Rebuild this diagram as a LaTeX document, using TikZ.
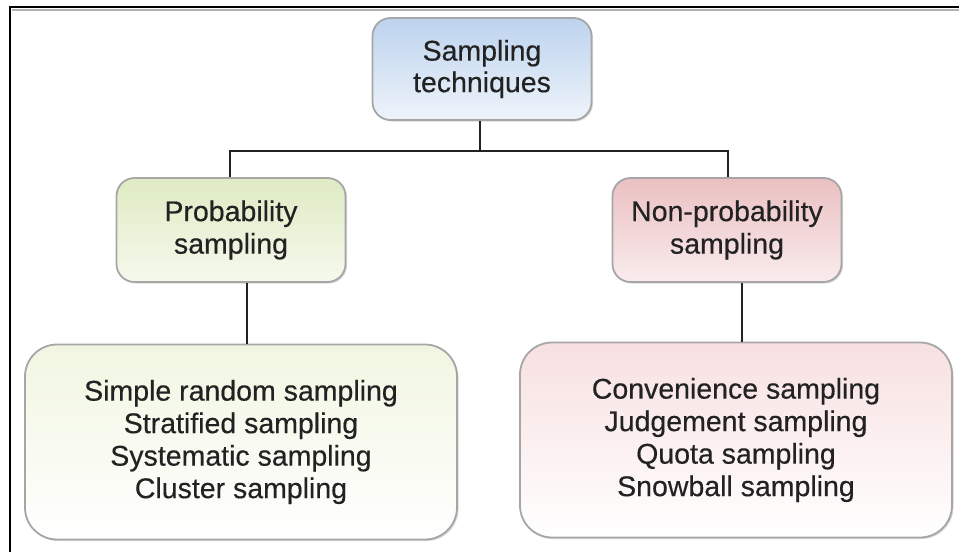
\documentclass[tikz,border=0pt]{standalone}
\usepackage{fontspec}
\setmainfont{Liberation Sans}[FakeBold=0.35]
\usetikzlibrary{shadows,calc}
\definecolor{inkc}{HTML}{222222}
\definecolor{blueA}{HTML}{BDD3EE}
\definecolor{greenA}{HTML}{DFEBC3}
\definecolor{pinkA}{HTML}{EBC0C2}
\definecolor{greenB}{HTML}{F1F6E1}
\definecolor{pinkB}{HTML}{F8E0E1}
\tikzset{
  box/.style={draw=gray!70, line width=1.8pt, text=inkc, align=center,
    font=\fontsize{28.5}{32.5}\selectfont,
    drop shadow={shadow xshift=1.5pt, shadow yshift=-1.5pt, opacity=0.3, fill=gray},
    inner sep=0pt},
  headbox/.style={box, rounded corners=18pt, minimum width=219pt, minimum height=102pt},
  catbox/.style={box, rounded corners=18pt, minimum width=229pt, minimum height=104pt},
  listbox/.style={box, rounded corners=32pt, minimum width=432pt, minimum height=195pt},
  link/.style={draw=inkc, line width=1.4pt},
}
\begin{document}
\begin{tikzpicture}[x=1pt,y=-1pt]
  \useasboundingbox (0,0) rectangle (959,552);
  % page frame: top and left rules
  \draw[gray!60, line width=1.2pt] (12,10) -- (959,10);
  \draw[black, line width=2.6pt] (8.7,7) -- (959,7);
  \draw[black, line width=2.8pt] (10,7) -- (10,552);

  \node[headbox, top color=blueA, middle color=blueA!90, bottom color=blueA!25] (root) at (482,69) {\raisebox{-3pt}{\shortstack{Sampling\\[2pt]techniques}}};
  \node[catbox, top color=greenA, middle color=greenA!95, bottom color=greenA!30] (prob) at (231,230) {Probability\\sampling};
  \node[catbox, top color=pinkA, middle color=pinkA!95, bottom color=pinkA!30] (nonp) at (727,230) {Non-probability\\sampling};
  \node[listbox, top color=greenB, middle color=greenB!90, bottom color=white] (plist) at (241,442)
    {Simple random sampling\\Stratified sampling\\Systematic sampling\\Cluster sampling};
  \node[listbox, top color=pinkB, middle color=pinkB!90, bottom color=white] (nlist) at (736,440)
    {Convenience sampling\\Judgement sampling\\Quota sampling\\Snowball sampling};

  % tree connectors
  \coordinate (split) at (480,151);
  \draw[link] (root.south -| split) -- (split);
  \draw[link] (prob.north -| 230,0) |- (split) -| (nonp.north -| 728,0);
  \draw[link] ([xshift=16pt]prob.south) -- ([xshift=16pt]prob.south |- plist.north);
  \draw[link] ([xshift=15pt]nonp.south) -- ([xshift=15pt]nonp.south |- nlist.north);
\end{tikzpicture}
\end{document}
